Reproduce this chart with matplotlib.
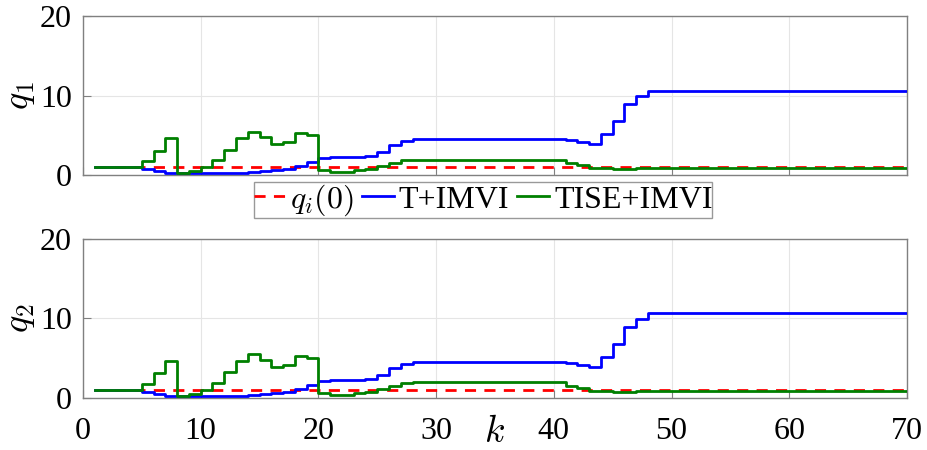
import matplotlib.pyplot as plt

plt.rcParams['font.family'] = ['Liberation Serif', 'DejaVu Serif']
plt.rcParams['mathtext.fontset'] = 'cm'

# time step k = 1..70
k = list(range(1, 71))

# initial value q_i(0)
q0 = 1.0

# T+IMVI (blue)
q_t_imvi = [1.0, 1.0, 1.0, 1.0, 0.8, 0.5, 0.3, 0.3, 0.3, 0.3,
            0.3, 0.3, 0.3, 0.42, 0.5, 0.62, 0.79, 1.12, 1.62, 2.1,
            2.22, 2.22, 2.22, 2.36, 2.9, 3.73, 4.22, 4.55, 4.55, 4.55,
            4.55, 4.55, 4.55, 4.55, 4.55, 4.55, 4.55, 4.55, 4.55, 4.55,
            4.35, 4.1, 3.94, 5.18, 6.8, 8.87, 9.9, 10.6, 10.6, 10.6,
            10.6, 10.6, 10.6, 10.6, 10.6, 10.6, 10.6, 10.6, 10.6, 10.6,
            10.6, 10.6, 10.6, 10.6, 10.6, 10.6, 10.6, 10.6, 10.6, 10.6]

# TISE+IMVI (green)
q_tise_imvi = [1.0, 1.0, 1.0, 1.0, 1.74, 3.07, 4.64, 0.2, 0.5, 1.0,
               1.83, 3.2, 4.64, 5.47, 4.77, 3.9, 4.1, 5.27, 5.05, 0.58,
               0.4, 0.4, 0.58, 0.8, 1.12, 1.54, 1.83, 1.95, 1.95, 1.95,
               1.95, 1.95, 1.95, 1.95, 1.95, 1.95, 1.95, 1.95, 1.95, 1.95,
               1.54, 1.24, 0.92, 0.9, 0.8, 0.8, 0.85, 0.85, 0.85, 0.85,
               0.85, 0.85, 0.85, 0.85, 0.85, 0.85, 0.85, 0.85, 0.85, 0.85,
               0.85, 0.85, 0.85, 0.85, 0.85, 0.85, 0.85, 0.85, 0.85, 0.85]

ylabels = ['$q_1$', '$q_2$']
xticks = [0, 10, 20, 30, 40, 50, 60, 70]
yticks = [0, 10, 20]

fs = 23
edge = '#808080'
lw = 2.0

fig = plt.figure(figsize=(9.28, 4.5), dpi=100)
ax1 = fig.add_axes([0.0894, 0.6111, 0.8879, 0.3533])
ax2 = fig.add_axes([0.0894, 0.1156, 0.8879, 0.3544])

for ax, lab in zip([ax1, ax2], ylabels):
    ax.hlines(q0, k[0], k[-1], colors='red', linestyles=(0, (4, 3)), linewidth=lw,
              label='$q_i(0)$', zorder=2)
    ax.step(k, q_t_imvi, where='post', color='blue', linewidth=lw, label='T+IMVI', zorder=3)
    ax.step(k, q_tise_imvi, where='post', color='green', linewidth=lw,
            label='TISE+IMVI', zorder=4)
    ax.set_xlim(0, 70)
    ax.set_ylim(0, 20)
    ax.set_xticks(xticks)
    ax.set_yticks(yticks)
    ax.grid(True, color='#e5e5e5', linewidth=0.8)
    ax.set_axisbelow(True)
    for s in ax.spines.values():
        s.set_color(edge)
        s.set_linewidth(1.0)
    ax.tick_params(direction='in', length=6, color=edge, labelsize=fs, pad=8,
                   top=False, right=False)
    ax.tick_params(axis='x', pad=14)
    ax.set_ylabel(lab, fontsize=fs + 3, labelpad=2)

ax1.tick_params(labelbottom=False)
ax2.set_xlabel('$k$', fontsize=fs + 4, labelpad=-22)

handles, labels = ax1.get_legend_handles_labels()
leg = fig.legend(handles, labels, loc='center', bbox_to_anchor=(483 / 928, 1 - 200 / 450),
                 ncol=3, fontsize=fs, frameon=True, fancybox=False, edgecolor=edge,
                 handlelength=1.0, handletextpad=0.15, columnspacing=0.25,
                 borderpad=0.0, borderaxespad=0)
leg.get_frame().set_linewidth(1.0)

fig.savefig('out.png', dpi=100)
